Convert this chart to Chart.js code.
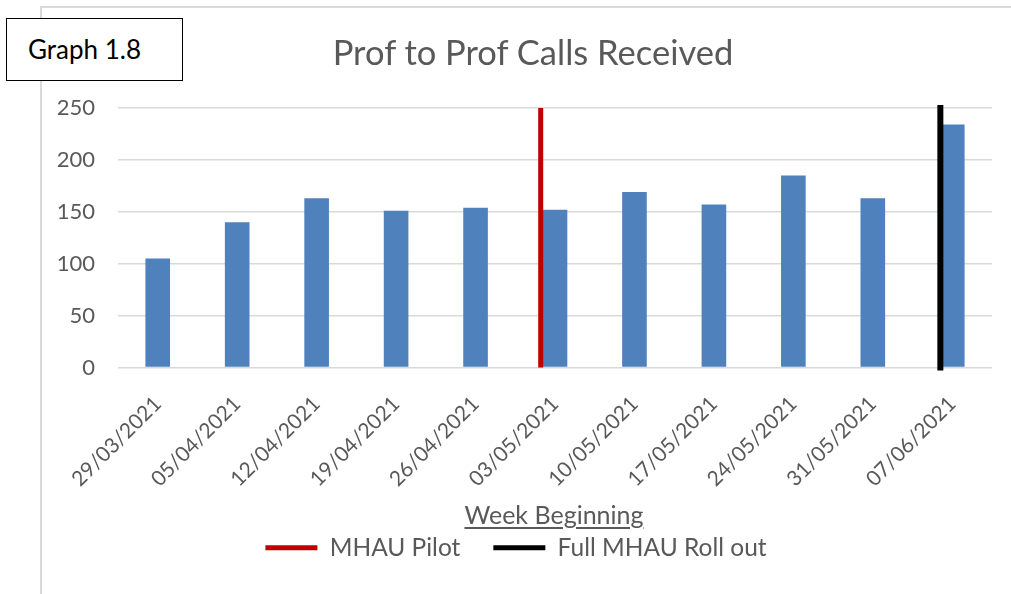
<!DOCTYPE html>
<html>
<head>
<meta charset="utf-8">
<title>Prof to Prof Calls Received</title>
<script src="https://cdn.jsdelivr.net/npm/chart.js@4/dist/chart.umd.min.js"></script>
<style>
  html, body { margin: 0; padding: 0; background: #fff; }
  #wrap { position: relative; width: 1011px; height: 594px; overflow: hidden; font-family: Lato, sans-serif; }
  #frame { position: absolute; left: 40px; top: 6px; right: -4px; bottom: -4px;
           border-top: 2px solid #d9d9d9; border-left: 2px solid #d9d9d9; }
  #tag { position: absolute; left: 6px; top: 18px; width: 175px; height: 61px;
         border: 1.5px solid #000; background: #fff; color: #000; font-size: 26px;
         line-height: 61px; }
  #tag span { margin-left: 21px; }
  #title { position: absolute; left: 0; width: 1066px; top: 30px; text-align: center;
           color: #595959; font-size: 34.5px; line-height: 44px; }
  #xtitle { position: absolute; left: 0; width: 1108px; top: 500px; text-align: center;
            color: #595959; font-size: 25px; line-height: 28px; }
  #xtitle span { text-decoration: underline; text-underline-offset: 3px; }
  canvas { position: absolute; left: 0; top: 0; }
</style>
</head>
<body>
<div id="wrap">
  <div id="frame"></div>
  <canvas id="chart" width="1011" height="594"></canvas>
  <div id="tag"><span>Graph 1.8</span></div>
  <div id="title">Prof to Prof Calls Received</div>
  <div id="xtitle"><span>Week Beginning</span></div>
</div>
<script>
// weekly call counts
var weeks = ["29/03/2021", "05/04/2021", "12/04/2021", "19/04/2021", "26/04/2021", "03/05/2021",
             "10/05/2021", "17/05/2021", "24/05/2021", "31/05/2021", "07/06/2021"];
var callsReceived = [105, 140, 163, 151, 154, 152, 169, 157, 185, 163, 234];

// milestone markers, in week-index units
var pilotWeek = 4.82;
var rolloutWeek = 9.85;
var yTicks = [0, 50, 100, 150, 200, 250];

var grey = "#595959";

function marker(label, at, color, width, cap) {
  return {
    type: "line",
    label: label,
    xAxisID: "xMark",
    data: [{ x: at, y: yTicks[0] }, { x: at, y: yTicks[yTicks.length - 1] }],
    borderColor: color,
    backgroundColor: color,
    borderWidth: width,
    borderCapStyle: cap,
    pointRadius: 0,
    clip: false,
    order: 0,
  };
}

var ctx = document.getElementById("chart");
var chart = new Chart(ctx, {
  type: "bar",
  data: {
    labels: weeks,
    datasets: [
      {
        label: "Calls",
        data: callsReceived,
        backgroundColor: "#4f81bd",
        grouped: false,
        categoryPercentage: 1,
        barPercentage: 0.31,
        order: 1,
      },
      marker("MHAU Pilot", pilotWeek, "#c00000", 5, "butt"),
      marker("Full MHAU Roll out", rolloutWeek, "#000000", 6, "square"),
    ],
  },
  options: {
    responsive: false,
    animation: false,
    layout: { padding: { left: 40, right: 19, top: 108, bottom: 24 } },
    plugins: {
      tooltip: { enabled: false },
      title: { display: false },
      legend: {
        position: "bottom",
        labels: {
          color: grey,
          font: { family: "Lato", size: 24.5 },
          boxWidth: 52,
          boxHeight: 5,
          padding: 33,
          generateLabels: function (c) {
            return c.data.datasets.slice(1).map(function (ds, i) {
              return {
                text: ds.label,
                fillStyle: ds.borderColor,
                strokeStyle: ds.borderColor,
                lineWidth: 0,
                fontColor: grey,
                datasetIndex: i + 1,
              };
            });
          },
        },
      },
    },
    scales: {
      x: {
        grid: { display: false },
        border: { display: false },
        ticks: {
          color: grey,
          font: { family: "Lato", size: 21 },
          maxRotation: 45,
          minRotation: 45,
          padding: 16,
        },
        afterFit: function (s) { s.height = 135; },
      },
      // zero-height axis spanning the plot, so markers can sit between weeks
      xMark: {
        type: "linear",
        position: "bottom",
        offset: false,
        min: -0.5,
        max: weeks.length - 0.5,
        ticks: { display: false },
        grid: { display: false, drawTicks: false },
        border: { display: false },
        afterFit: function (s) { s.height = 0; },
      },
      y: {
        min: 0,
        max: 250,
        afterBuildTicks: function (s) { s.ticks = yTicks.map(function (v) { return { value: v }; }); },
        grid: { color: "#d9d9d9", lineWidth: 1.5, drawTicks: false },
        border: { display: false },
        ticks: { color: grey, font: { family: "Lato", size: 22 }, padding: 23 },
        afterFit: function (s) { s.width = 78; },
      },
    },
  },
});
</script>
</body>
</html>
